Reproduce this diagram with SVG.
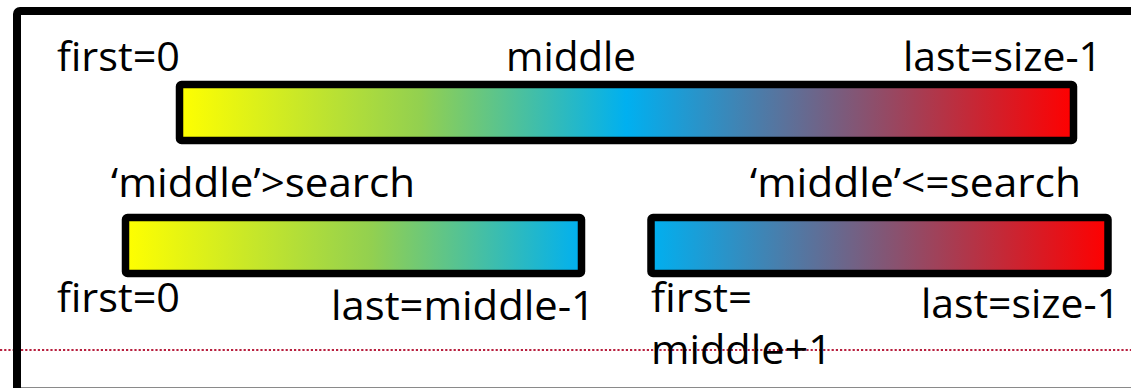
<svg xmlns="http://www.w3.org/2000/svg" width="1131" height="388" viewBox="0 0 1131 388">
  <defs>
    <linearGradient id="gFull" x1="0" y1="0" x2="1" y2="0">
      <stop offset="0" stop-color="#FFFF00"/>
      <stop offset="0.27" stop-color="#92D050"/>
      <stop offset="0.5" stop-color="#00B0F0"/>
      <stop offset="1" stop-color="#FF0000"/>
    </linearGradient>
    <linearGradient id="gLeft" x1="0" y1="0" x2="1" y2="0">
      <stop offset="0" stop-color="#FFFF00"/>
      <stop offset="0.54" stop-color="#92D050"/>
      <stop offset="1" stop-color="#00B0F0"/>
    </linearGradient>
    <linearGradient id="gRight" x1="0" y1="0" x2="1" y2="0">
      <stop offset="0" stop-color="#00B0F0"/>
      <stop offset="1" stop-color="#FF0000"/>
    </linearGradient>
  </defs>
  <style>
    .bar { stroke: #000; stroke-width: 7.5; }
    .lbl { font-family: "Open Sans", "Liberation Sans", sans-serif; font-size: 41px; fill: #000; }
  </style>
  <rect x="0" y="0" width="1131" height="388" fill="#FFFFFF"/>
  <line x1="0" y1="350" x2="1131" y2="350" stroke="#B8203F" stroke-width="2" stroke-dasharray="2.2 2"/>
  <g id="frame">
    <rect x="17" y="11" width="1130" height="381" rx="3" fill="none" stroke="#000" stroke-width="8"/>
    <line x1="21" y1="387.5" x2="1131" y2="387.5" stroke="#8A8A8A" stroke-width="1"/>
  </g>
  <g id="array-full">
    <rect class="bar" x="179.5" y="84.5" width="894" height="56" rx="2" fill="url(#gFull)"/>
    <text class="lbl" x="57" y="71" textLength="123" lengthAdjust="spacingAndGlyphs">first=0</text>
    <text class="lbl" x="506" y="71" textLength="130" lengthAdjust="spacingAndGlyphs">middle</text>
    <text class="lbl" x="903" y="71" textLength="199" lengthAdjust="spacingAndGlyphs">last=size-1</text>
  </g>
  <g id="array-left">
    <rect class="bar" x="125.5" y="217.5" width="456" height="56" rx="2" fill="url(#gLeft)"/>
    <text class="lbl" x="111" y="197" textLength="304" lengthAdjust="spacingAndGlyphs">‘middle’&gt;search</text>
    <text class="lbl" x="57" y="312" textLength="123" lengthAdjust="spacingAndGlyphs">first=0</text>
    <text class="lbl" x="331" y="320" textLength="264" lengthAdjust="spacingAndGlyphs">last=middle-1</text>
  </g>
  <g id="array-right">
    <rect class="bar" x="651" y="217.5" width="457" height="56" rx="2" fill="url(#gRight)"/>
    <text class="lbl" x="750" y="197" textLength="331" lengthAdjust="spacingAndGlyphs">‘middle’&lt;=search</text>
    <text class="lbl" x="651" y="312" textLength="101" lengthAdjust="spacingAndGlyphs">first=</text>
    <text class="lbl" x="651" y="364" textLength="181" lengthAdjust="spacingAndGlyphs">middle+1</text>
    <text class="lbl" x="921" y="318" textLength="199" lengthAdjust="spacingAndGlyphs">last=size-1</text>
  </g>
</svg>
